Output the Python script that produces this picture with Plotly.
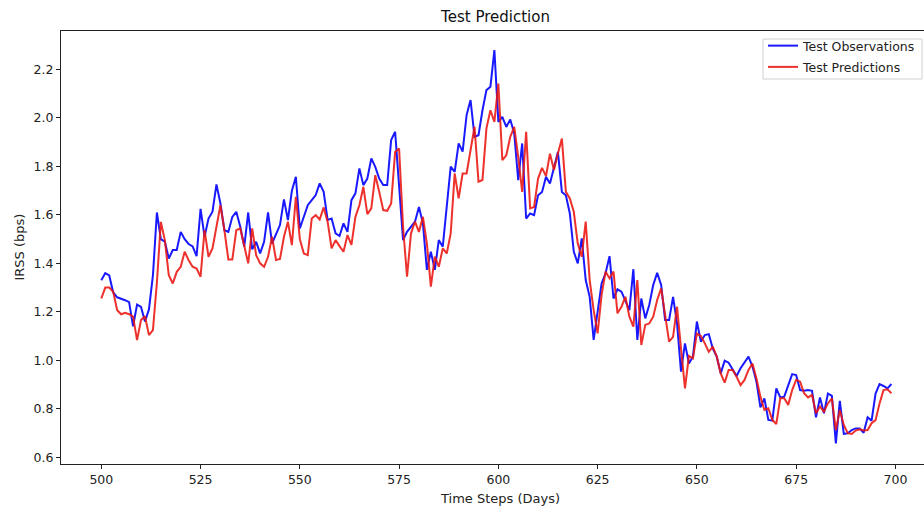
import plotly.graph_objects as go

days = list(range(500, 700))

observations = [
    1.33, 1.36, 1.35, 1.28, 1.26, 1.255, 1.248, 1.24, 1.14, 1.23,
    1.22, 1.16, 1.21, 1.35, 1.61, 1.50, 1.49, 1.42, 1.455, 1.455,
    1.53, 1.50, 1.48, 1.47, 1.43, 1.625, 1.51, 1.585, 1.613, 1.726,
    1.647, 1.537, 1.53, 1.592, 1.613, 1.551, 1.469, 1.61, 1.458, 1.489,
    1.441, 1.489, 1.61, 1.482, 1.524, 1.558, 1.664, 1.579, 1.70, 1.757,
    1.544, 1.592, 1.64, 1.661, 1.682, 1.73, 1.695, 1.579, 1.585, 1.524,
    1.513, 1.565, 1.53, 1.661, 1.689, 1.792, 1.723, 1.75, 1.833, 1.798,
    1.75, 1.723, 1.723, 1.909, 1.943, 1.72, 1.496, 1.53, 1.551, 1.572,
    1.633, 1.565, 1.373, 1.448, 1.373, 1.496, 1.469, 1.647, 1.799, 1.778,
    1.895, 1.861, 2.012, 2.074, 1.922, 1.929, 2.032, 2.115, 2.129, 2.28,
    1.984, 2.005, 1.963, 1.994, 1.936, 1.743, 1.895, 1.585, 1.606, 1.599,
    1.681, 1.695, 1.757, 1.73, 1.792, 1.86, 1.695, 1.681, 1.606, 1.448,
    1.40, 1.503, 1.331, 1.262, 1.084, 1.207, 1.317, 1.359, 1.43, 1.255,
    1.293, 1.283, 1.242, 1.207, 1.376, 1.084, 1.255, 1.173, 1.228, 1.311,
    1.361, 1.311, 1.166, 1.166, 1.262, 1.152, 0.953, 1.07, 0.987, 1.015,
    1.16, 1.077, 1.104, 1.108, 1.049, 1.015, 0.946, 0.998, 0.99, 0.96,
    0.935, 0.967, 0.99, 1.015, 0.974, 0.912, 0.806, 0.843, 0.754, 0.751,
    0.884, 0.847, 0.85, 0.898, 0.943, 0.939, 0.877, 0.874, 0.877, 0.874,
    0.765, 0.847, 0.781, 0.863, 0.853, 0.657, 0.833, 0.696, 0.699, 0.712,
    0.719, 0.719, 0.701, 0.765, 0.751, 0.863, 0.902, 0.894, 0.884, 0.902,
]

predictions = [
    1.255, 1.30, 1.30, 1.283, 1.207, 1.19, 1.196, 1.19, 1.18, 1.083,
    1.166, 1.182, 1.104, 1.125, 1.32, 1.571, 1.496, 1.351, 1.317, 1.365,
    1.386, 1.448, 1.413, 1.386, 1.379, 1.345, 1.537, 1.427, 1.462, 1.551,
    1.64, 1.537, 1.416, 1.416, 1.537, 1.544, 1.469, 1.40, 1.544, 1.434,
    1.40, 1.386, 1.427, 1.51, 1.414, 1.418, 1.51, 1.572, 1.475, 1.675,
    1.50, 1.441, 1.434, 1.585, 1.599, 1.581, 1.631, 1.572, 1.462, 1.496,
    1.471, 1.448, 1.517, 1.476, 1.592, 1.64, 1.716, 1.603, 1.627, 1.764,
    1.695, 1.62, 1.617, 1.647, 1.86, 1.874, 1.55, 1.345, 1.524, 1.572,
    1.53, 1.592, 1.482, 1.304, 1.428, 1.386, 1.462, 1.441, 1.524, 1.771,
    1.668, 1.771, 1.771, 1.86, 1.964, 1.737, 1.744, 1.957, 2.032, 1.984,
    2.142, 1.826, 1.846, 1.922, 1.963, 1.84, 1.695, 1.943, 1.627, 1.633,
    1.75, 1.794, 1.76, 1.853, 1.785, 1.853, 1.915, 1.695, 1.668, 1.613,
    1.482, 1.427, 1.572, 1.331, 1.207, 1.111, 1.27, 1.366, 1.338, 1.366,
    1.194, 1.221, 1.262, 1.18, 1.139, 1.331, 1.063, 1.146, 1.152, 1.18,
    1.249, 1.297, 1.194, 1.077, 1.097, 1.221, 1.049, 0.884, 1.018, 1.008,
    1.11, 1.10, 1.07, 1.035, 1.056, 1.015, 0.946, 0.908, 0.96, 0.96,
    0.932, 0.898, 0.919, 0.96, 0.987, 0.925, 0.85, 0.795, 0.802, 0.754,
    0.737, 0.843, 0.843, 0.816, 0.877, 0.919, 0.912, 0.864, 0.847, 0.857,
    0.781, 0.809, 0.788, 0.822, 0.843, 0.712, 0.795, 0.733, 0.699, 0.696,
    0.71, 0.715, 0.71, 0.712, 0.74, 0.753, 0.822, 0.877, 0.88, 0.864,
]

x_ticks = [500, 525, 550, 575, 600, 625, 650, 675, 700]
y_ticks = [0.6, 0.8, 1.0, 1.2, 1.4, 1.6, 1.8, 2.0, 2.2]

FONT = "DejaVu Sans"
PLOT_W = 863.0
PLOT_H = 433.0

def px_x(p):
    return (p - 61) / PLOT_W

def px_y(p):
    return (464 - p) / PLOT_H

fig = go.Figure()
fig.add_trace(go.Scatter(x=days, y=observations, mode="lines", name="Test Observations",
                         legendgroup="obs",
                         line=dict(color="rgba(0,0,255,0.9)", width=2)))
fig.add_trace(go.Scatter(x=days, y=predictions, mode="lines", name="Test Predictions",
                         legendgroup="pred",
                         line=dict(color="rgba(235,20,15,0.88)", width=2)))

fig.update_layout(
    width=924, height=508,
    margin=dict(l=61, r=0, t=31, b=44),
    paper_bgcolor="white", plot_bgcolor="white",
    font=dict(family=FONT, size=12.5, color="#222"),
    title=dict(text="Test Prediction", x=495.5 / 924, xanchor="center", xref="container",
               y=1 - 17 / 508, yanchor="middle", yref="container",
               font=dict(family=FONT, size=15, color="#111")),
    showlegend=True,
    legend=dict(x=px_x(763), xanchor="left", y=px_y(31), yanchor="top",
                bgcolor="rgba(0,0,0,0)", borderwidth=0,
                font=dict(family=FONT, size=12.5, color="#222"), itemwidth=30,
                tracegroupgap=2),
    shapes=[
        dict(type="rect", xref="paper", yref="paper",
             x0=px_x(763), x1=px_x(922), y0=px_y(79), y1=px_y(39),
             line=dict(color="#d0d0d0", width=1), fillcolor="rgba(255,255,255,0.8)",
             layer="above"),
    ],
    xaxis=dict(range=[489.85, 707.2], tickmode="array", tickvals=x_ticks,
               ticktext=[str(t) for t in x_ticks], ticks="outside", ticklen=4, tickwidth=1,
               tickcolor="#222", showline=True, linecolor="#222", linewidth=1, mirror=True,
               showgrid=False, zeroline=False, tickfont=dict(family=FONT, size=12.5, color="#222")),
    yaxis=dict(range=[0.572, 2.359], tickmode="array", tickvals=y_ticks,
               ticktext=[f"{t:.1f}" for t in y_ticks], ticks="outside", ticklen=4, tickwidth=1,
               tickcolor="#222", showline=True, linecolor="#222", linewidth=1, mirror=False,
               showgrid=False, zeroline=False, tickfont=dict(family=FONT, size=12.5, color="#222")),
    annotations=[
        dict(text="Time Steps (Days)", xref="paper", yref="paper", x=px_x(500),
             y=px_y(498), xanchor="center", yanchor="middle", showarrow=False,
             font=dict(family=FONT, size=13, color="#222")),
        dict(text="IRSS (bps)", xref="paper", yref="paper", x=px_x(19),
             y=0.5, xanchor="center", yanchor="middle", textangle=-90, showarrow=False,
             font=dict(family=FONT, size=13, color="#222")),
    ],
)

fig.write_html("out.html")
